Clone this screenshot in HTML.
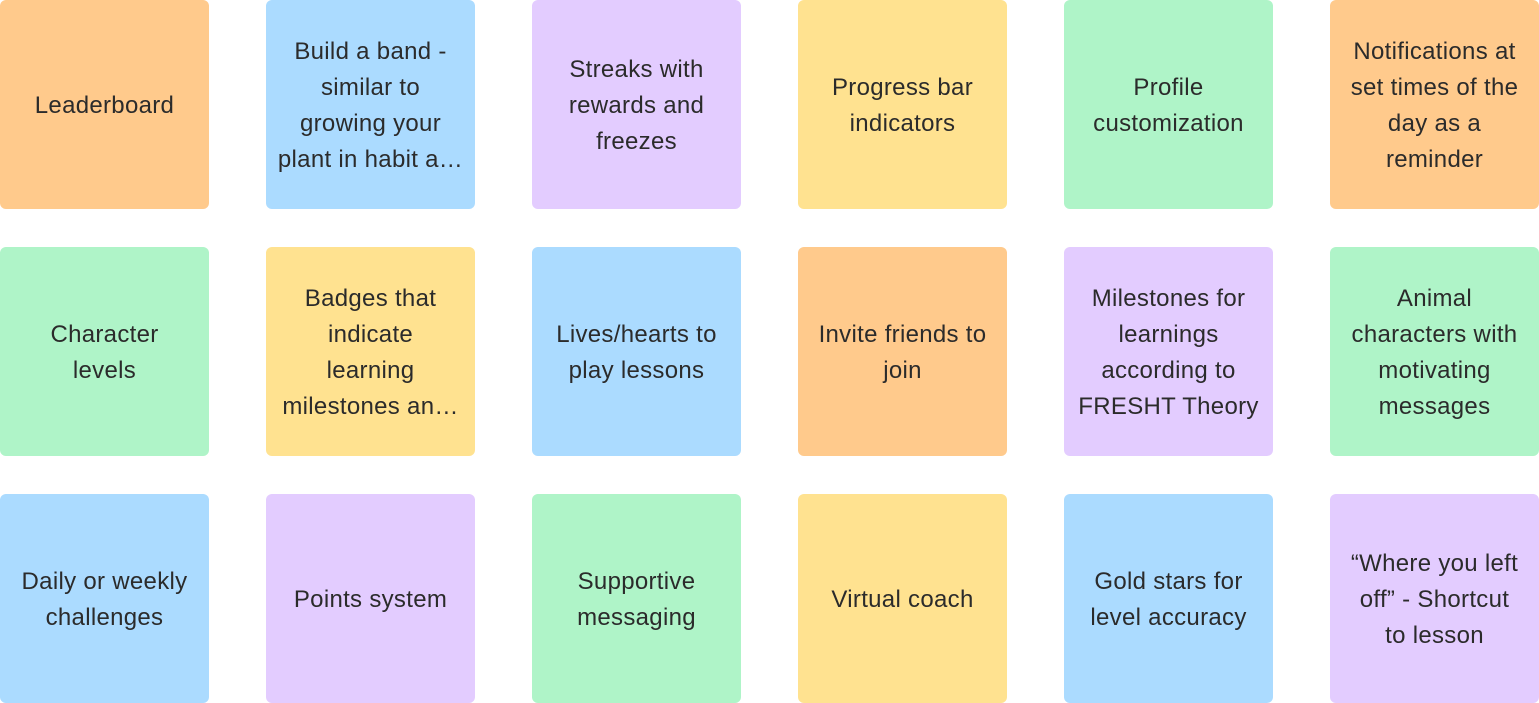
<!DOCTYPE html>
<html><head><meta charset="utf-8"><style>
html,body{margin:0;padding:0;background:#fff;width:1539px;height:703px;overflow:hidden}
.c{position:absolute;width:209px;height:209px;border-radius:6px;display:flex;align-items:center;justify-content:center;text-align:center;font-family:"Liberation Sans",sans-serif;font-size:24px;letter-spacing:0.3px;line-height:36px;color:#2b2b2b;box-sizing:border-box;padding:2px 0 0 0;white-space:nowrap}
.o{background:#FFCA8C}.b{background:#ABDBFF}.p{background:#E3CCFF}.y{background:#FFE290}.g{background:#AFF4C8}
</style></head><body>
<div class="c o" style="left:0;top:0">Leaderboard</div>
<div class="c b" style="left:266px;top:0">Build a band -<br>similar to<br>growing your<br>plant in habit a…</div>
<div class="c p" style="left:532px;top:0">Streaks with<br>rewards and<br>freezes</div>
<div class="c y" style="left:798px;top:0">Progress bar<br>indicators</div>
<div class="c g" style="left:1064px;top:0">Profile<br>customization</div>
<div class="c o" style="left:1330px;top:0">Notifications at<br>set times of the<br>day as a<br>reminder</div>

<div class="c g" style="left:0;top:247px">Character<br>levels</div>
<div class="c y" style="left:266px;top:247px">Badges that<br>indicate<br>learning<br>milestones an…</div>
<div class="c b" style="left:532px;top:247px">Lives/hearts to<br>play lessons</div>
<div class="c o" style="left:798px;top:247px">Invite friends to<br>join</div>
<div class="c p" style="left:1064px;top:247px">Milestones for<br>learnings<br>according to<br>FRESHT Theory</div>
<div class="c g" style="left:1330px;top:247px">Animal<br>characters with<br>motivating<br>messages</div>

<div class="c b" style="left:0;top:494px">Daily or weekly<br>challenges</div>
<div class="c p" style="left:266px;top:494px">Points system</div>
<div class="c g" style="left:532px;top:494px">Supportive<br>messaging</div>
<div class="c y" style="left:798px;top:494px">Virtual coach</div>
<div class="c b" style="left:1064px;top:494px">Gold stars for<br>level accuracy</div>
<div class="c p" style="left:1330px;top:494px">“Where you left<br>off” - Shortcut<br>to lesson</div>
</body></html>
